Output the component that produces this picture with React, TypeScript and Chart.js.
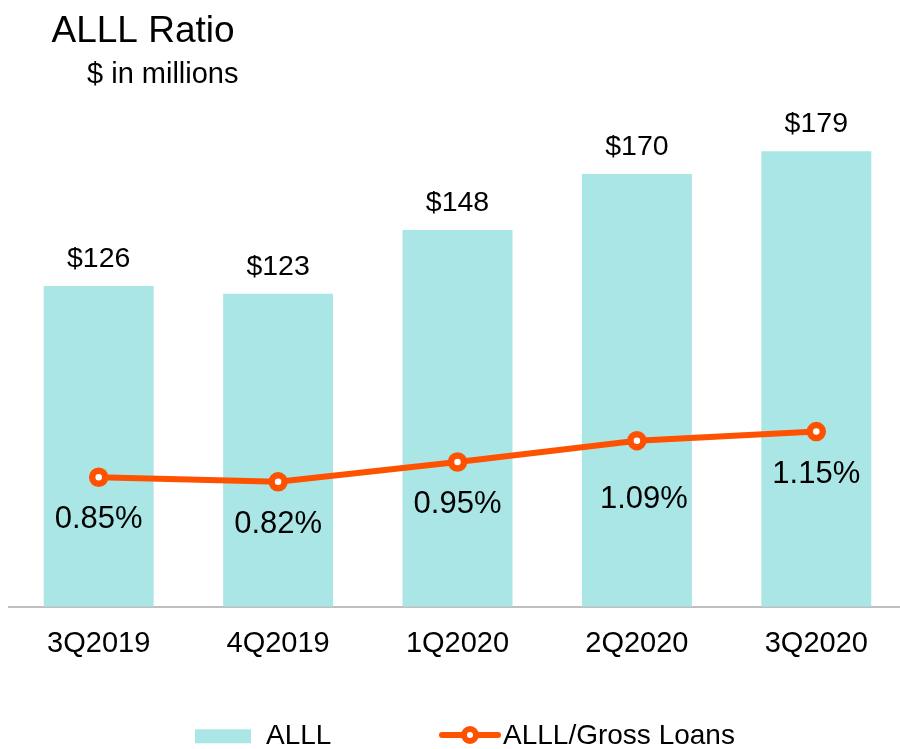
import React, { useEffect, useRef } from "react";
import { Chart, registerables } from "chart.js";

Chart.register(...registerables);

// ---- data ----
const categories = ["3Q2019", "4Q2019", "1Q2020", "2Q2020", "3Q2020"];
const alllValues = [126, 123, 148, 170, 179];
const ratioValues = [0.85, 0.82, 0.95, 1.09, 1.15];

const titleText = "ALLL Ratio";
const subtitleText = "$ in millions";
const barSeriesName = "ALLL";
const lineSeriesName = "ALLL/Gross Loans";

// ---- styles ----
const FONT = "'Liberation Sans', Arial, Helvetica, sans-serif";
const BAR_COLOR = "#ABE6E6";
const LINE_COLOR = "#FF5200";
const AXIS_COLOR = "#BFBFBF";
const TEXT_COLOR = "#000000";
const ratioLabelDx = [0, 0, 0, 7, 0];
const ratioLabelDy = [51, 51, 51, 67, 51];

const annotatePlugin = {
  id: "annotate",
  afterDatasetsDraw(chart: any) {
    const ctx = chart.ctx as CanvasRenderingContext2D;
    ctx.save();
    ctx.fillStyle = TEXT_COLOR;
    ctx.textAlign = "center";
    ctx.textBaseline = "alphabetic";
    const barMeta = chart.getDatasetMeta(1);
    ctx.font = `28.5px ${FONT}`;
    barMeta.data.forEach((el: any, i: number) => {
      ctx.fillText("$" + alllValues[i], el.x, el.y - 19);
    });
    const lineMeta = chart.getDatasetMeta(0);
    ctx.font = `31px ${FONT}`;
    lineMeta.data.forEach((el: any, i: number) => {
      ctx.fillText(ratioValues[i].toFixed(2) + "%", el.x + ratioLabelDx[i], el.y + ratioLabelDy[i]);
    });
    ctx.restore();
  },
  afterDraw(chart: any) {
    const ctx = chart.ctx as CanvasRenderingContext2D;
    ctx.save();
    ctx.fillStyle = TEXT_COLOR;
    ctx.textAlign = "left";
    ctx.textBaseline = "alphabetic";
    // title & subtitle
    ctx.font = `37px ${FONT}`;
    ctx.fillText(titleText, 51.5, 41.7);
    ctx.font = `29px ${FONT}`;
    ctx.fillText(subtitleText, 87, 83.3);

    // legend
    ctx.fillStyle = BAR_COLOR;
    ctx.fillRect(195, 729.3, 56, 14);
    ctx.fillStyle = TEXT_COLOR;
    ctx.font = `28px ${FONT}`;
    ctx.fillText(barSeriesName, 266, 744);

    ctx.strokeStyle = LINE_COLOR;
    ctx.lineWidth = 6;
    ctx.lineCap = "round";
    ctx.beginPath();
    ctx.moveTo(442, 735);
    ctx.lineTo(498, 735);
    ctx.stroke();
    ctx.beginPath();
    ctx.arc(470, 735, 6, 0, Math.PI * 2);
    ctx.fillStyle = "#FFFFFF";
    ctx.fill();
    ctx.stroke();
    ctx.fillStyle = TEXT_COLOR;
    ctx.fillText(lineSeriesName, 503, 744);
    ctx.restore();
  },
};

export default function App() {
  const canvasRef = useRef<HTMLCanvasElement | null>(null);

  useEffect(() => {
    if (!canvasRef.current) return;
    const chart = new Chart(canvasRef.current, {
      type: "bar",
      data: {
        labels: categories,
        datasets: [
          {
            type: "line",
            label: lineSeriesName,
            data: ratioValues,
            yAxisID: "y2",
            borderColor: LINE_COLOR,
            borderWidth: 6,
            backgroundColor: LINE_COLOR,
            pointRadius: 6.5,
            pointBorderWidth: 6.5,
            pointBackgroundColor: "#FFFFFF",
            pointBorderColor: LINE_COLOR,
            tension: 0,
            fill: false,
            clip: false,
            order: 0,
          } as any,
          {
            type: "bar",
            label: barSeriesName,
            data: alllValues,
            yAxisID: "y",
            backgroundColor: BAR_COLOR,
            borderWidth: 0,
            categoryPercentage: 1,
            barPercentage: 0.613,
            order: 1,
          } as any,
        ],
      },
      options: {
        responsive: false,
        animation: false,
        layout: { autoPadding: false, padding: { left: 9, right: 4, top: 97.7, bottom: 67.5 } },
        plugins: {
          legend: { display: false },
          tooltip: { enabled: false },
        },
        scales: {
          x: {
            grid: { display: true, color: "rgba(0,0,0,0)", drawTicks: false, drawOnChartArea: false },
            border: { display: true, color: AXIS_COLOR, width: 2 },
            ticks: {
              color: TEXT_COLOR,
              font: { family: FONT, size: 29 },
              padding: 20,
              maxRotation: 0,
              autoSkip: false,
            },
          },
          y: { display: false, min: 0, max: 200 },
          y2: { display: false, min: 0, max: 3.342, position: "right" },
        },
      },
      plugins: [annotatePlugin],
    });
    return () => chart.destroy();
  }, []);

  return (
    <div
      style={{
        position: "fixed",
        left: 0,
        top: 0,
        width: 900,
        height: 749,
        overflow: "hidden",
        background: "#FFFFFF",
      }}
    >
      <div style={{ width: 910, height: 749, position: "relative" }}>
        <canvas ref={canvasRef} width={910} height={749} style={{ display: "block", width: 910, height: 749 }} />
      </div>
    </div>
  );
}
